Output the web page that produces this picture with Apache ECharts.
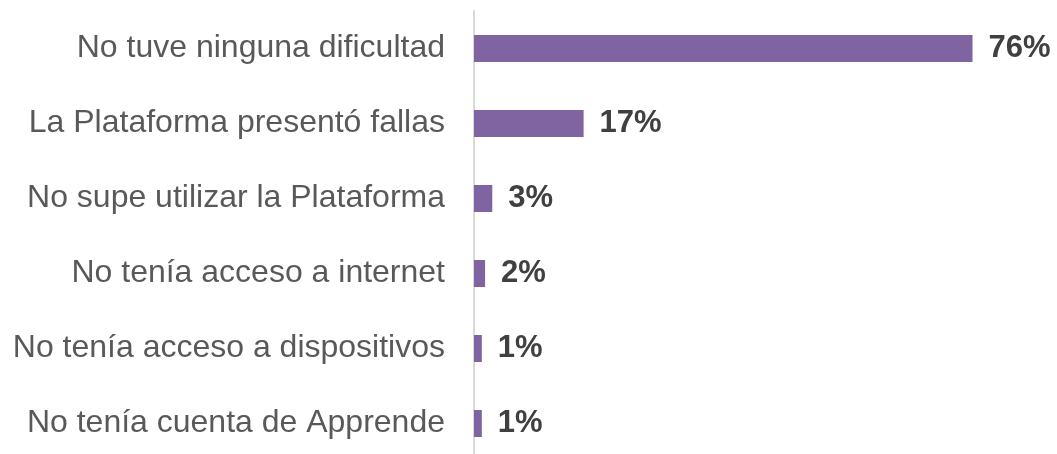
<!DOCTYPE html>
<html>
<head>
<meta charset="utf-8">
<script src="https://cdn.jsdelivr.net/npm/echarts@6/dist/echarts.min.js"></script>
<style>
  html, body { margin: 0; padding: 0; background: #fff; }
  #chart { width: 1057px; height: 454px; }
</style>
</head>
<body>
<div id="chart"></div>
<script>
// categorías (de arriba hacia abajo)
const categories = [
  'No tuve ninguna dificultad',
  'La Plataforma presentó fallas',
  'No supe utilizar la Plataforma',
  'No tenía acceso a internet',
  'No tenía acceso a dispositivos',
  'No tenía cuenta de Apprende'
];
// porcentajes estimados del gráfico
const values = [76.4, 16.8, 2.8, 1.7, 1.2, 1.2];

const chart = echarts.init(document.getElementById('chart'));

chart.setOption({
  animation: false,
  grid: {
    left: 474,
    right: 61,
    top: 11,
    height: 450,
    outerBoundsMode: 'none'
  },
  xAxis: {
    type: 'value',
    min: 0,
    max: 80,
    show: false
  },
  yAxis: {
    type: 'category',
    inverse: true,
    data: categories,
    axisLine: { show: true, lineStyle: { color: '#d9d9d9', width: 2 } },
    axisTick: { show: false },
    axisLabel: {
      margin: 29,
      color: '#595959',
      fontSize: 32,
      fontFamily: 'Liberation Sans, Arial, sans-serif'
    }
  },
  series: [
    {
      type: 'bar',
      data: values,
      barWidth: 27,
      itemStyle: { color: '#8064a2' },
      label: {
        show: true,
        position: 'right',
        distance: 16,
        color: '#404040',
        fontSize: 31,
        fontWeight: 'bold',
        fontFamily: 'Liberation Sans, Arial, sans-serif',
        formatter: p => Math.round(p.value) + '%'
      }
    }
  ]
});
</script>
</body>
</html>
